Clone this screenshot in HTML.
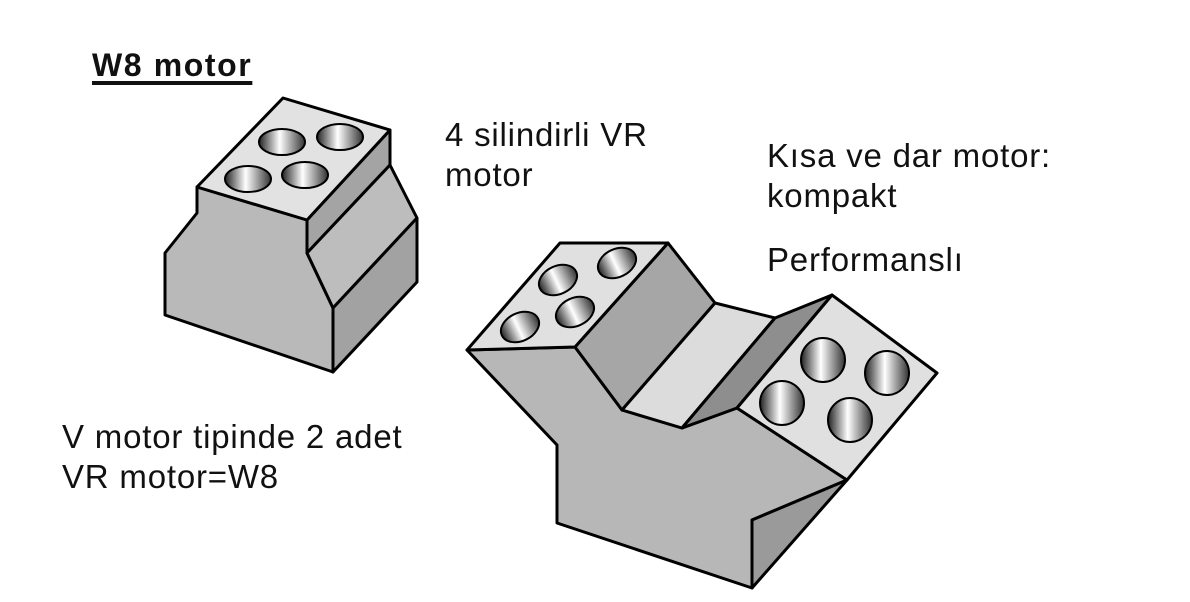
<!DOCTYPE html>
<html><head><meta charset="utf-8"><style>
body{margin:0;width:1190px;height:602px;background:#fff;overflow:hidden;position:relative;font-family:"Liberation Sans",Arial,sans-serif;}
.t{position:absolute;font-size:33px;line-height:40px;color:#111;letter-spacing:0.8px;white-space:nowrap;}
</style></head><body>
<svg width="1190" height="602" style="position:absolute;left:0;top:0">
<defs>
<linearGradient id="h" x1="0" x2="1" y1="0" y2="0">
<stop offset="0" stop-color="#222"/><stop offset="0.45" stop-color="#fff"/><stop offset="1" stop-color="#333"/>
</linearGradient>
</defs>
<g stroke="#000" stroke-width="3" stroke-linejoin="round">
<polygon points="197,187 307,220 307,253 333,308 333,372 165,315 165,253 197,213" fill="#b9b9b9"/>
<polygon points="307,220 390,130 390,165 307,253" fill="#a4a4a4"/>
<polygon points="307,253 390,165 417,218 333,308" fill="#bdbdbd"/>
<polygon points="333,308 417,218 417,282 333,372" fill="#a2a2a2"/>
<polygon points="197,187 283,98 390,130 307,220" fill="#e2e2e2"/>
<polygon points="467,350 575,347 622,410 682,428 737,408 847,480 752,520 752,588 557,523 557,445" fill="#b7b7b7"/>
<polygon points="752,520 847,480 752,588" fill="#9a9a9a"/>
<polygon points="575,347 668,243 715,303 622,410" fill="#a6a6a6"/>
<polygon points="622,410 715,303 775,318 682,428" fill="#dcdcdc"/>
<polygon points="775,318 832,295 737,408 682,428" fill="#8e8e8e"/>
<polygon points="467,350 560,243 668,243 575,347" fill="#e0e0e0"/>
<polygon points="832,295 937,373 847,480 737,408" fill="#e0e0e0"/>
</g>
<g stroke="#000" stroke-width="2" fill="url(#h)">
<ellipse cx="282" cy="142" rx="23" ry="13"/>
<ellipse cx="340" cy="137" rx="23" ry="13"/>
<ellipse cx="248" cy="179" rx="23" ry="13"/>
<ellipse cx="305" cy="175" rx="23" ry="13"/>
<ellipse cx="558" cy="280" rx="20" ry="14" transform="rotate(-25 558 280)"/>
<ellipse cx="617" cy="263" rx="20" ry="14" transform="rotate(-25 617 263)"/>
<ellipse cx="520" cy="327" rx="20" ry="14" transform="rotate(-25 520 327)"/>
<ellipse cx="575" cy="312" rx="20" ry="14" transform="rotate(-25 575 312)"/>
<circle cx="823" cy="360" r="22"/>
<circle cx="887" cy="373" r="22"/>
<circle cx="782" cy="403" r="22"/>
<circle cx="850" cy="420" r="22"/>
</g>
</svg>
<div class="t" style="left:92px;top:45px;font-weight:bold;font-size:32px;text-decoration:underline;text-decoration-thickness:4px;text-underline-offset:5px;letter-spacing:1.6px">W8 motor</div>
<div class="t" style="left:445px;top:115px">4 silindirli VR<br>motor</div>
<div class="t" style="left:767px;top:136px">Kısa ve dar motor:<br>kompakt</div>
<div class="t" style="left:767px;top:240px">Performanslı</div>
<div class="t" style="left:62px;top:417px">V motor tipinde 2 adet<br>VR motor=W8</div>
</body></html>
